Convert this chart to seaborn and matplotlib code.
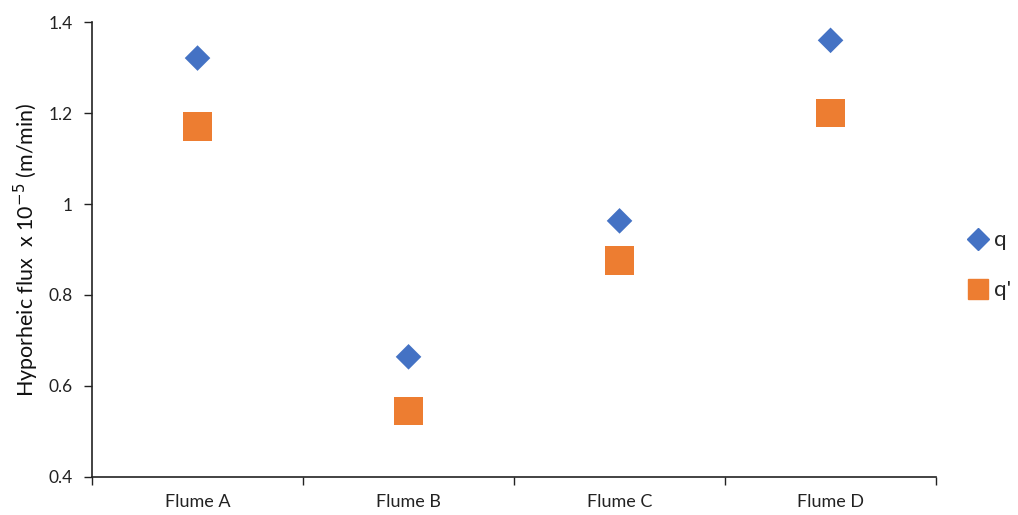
import matplotlib
matplotlib.use("Agg")
import matplotlib.pyplot as plt
import seaborn as sns
import pandas as pd
from matplotlib.ticker import FixedLocator
from matplotlib.lines import Line2D

# ── data ─────────────────────────────────────────────────────────────────────
flumes = ["Flume A", "Flume B", "Flume C", "Flume D"]
q_vals = [1.321, 0.664, 0.963, 1.360]
qp_vals = [1.171, 0.545, 0.875, 1.200]

BLUE = "#4472C4"
ORANGE = "#ED7D31"

sns.set_theme(style="white")
plt.rcParams["font.family"] = ["Lato", "DejaVu Sans"]

df = pd.DataFrame({"flume": flumes, "q": q_vals, "qp": qp_vals})

fig, ax = plt.subplots(figsize=(10.18, 5.15), dpi=100)
fig.subplots_adjust(left=0.0904, right=0.9195, top=0.957, bottom=0.074)

sns.scatterplot(data=df, x="flume", y="q", marker="D", s=170, color=BLUE,
                edgecolor="none", ax=ax, zorder=3)
sns.scatterplot(data=df, x="flume", y="qp", marker="s", s=430, color=ORANGE,
                edgecolor="none", ax=ax, zorder=3)

ax.set_xlim(-0.5, len(flumes) - 0.5)
ax.set_ylim(0.4, 1.4)
ax.set_yticks([0.4, 0.6, 0.8, 1.0, 1.2, 1.4])
ax.set_yticklabels(["0.4", "0.6", "0.8", "1", "1.2", "1.4"])
ax.xaxis.set_minor_locator(FixedLocator([i - 0.5 for i in range(len(flumes) + 1)]))
ax.tick_params(axis="x", which="major", length=0, pad=12, labelsize=13, colors="#222")
ax.tick_params(axis="x", which="minor", length=6, width=1, color="#222", direction="out", bottom=True)
ax.tick_params(axis="y", length=6, width=1, color="#222", direction="out", left=True,
               labelsize=12.5, colors="#222", pad=8)

ax.set_xlabel("")
ax.set_ylabel("Hyporheic flux  x 10$^{-5}$ (m/min)", fontsize=15.5, color="#111", labelpad=5)

for s in ["top", "right"]:
    ax.spines[s].set_visible(False)
for s in ["left", "bottom"]:
    ax.spines[s].set_color("#222")
    ax.spines[s].set_linewidth(1.2)

handles = [
    Line2D([], [], marker="D", ls="none", color=BLUE, markersize=11, label="q"),
    Line2D([], [], marker="s", ls="none", color=ORANGE, markersize=15, label="q'"),
]
ax.legend(handles=handles, loc="center left", bbox_to_anchor=(1.02, 0.465),
          frameon=False, fontsize=16, handletextpad=0.25, labelspacing=1.35,
          handlelength=0.9, borderpad=0.2)

fig.savefig("out.png", dpi=100)
